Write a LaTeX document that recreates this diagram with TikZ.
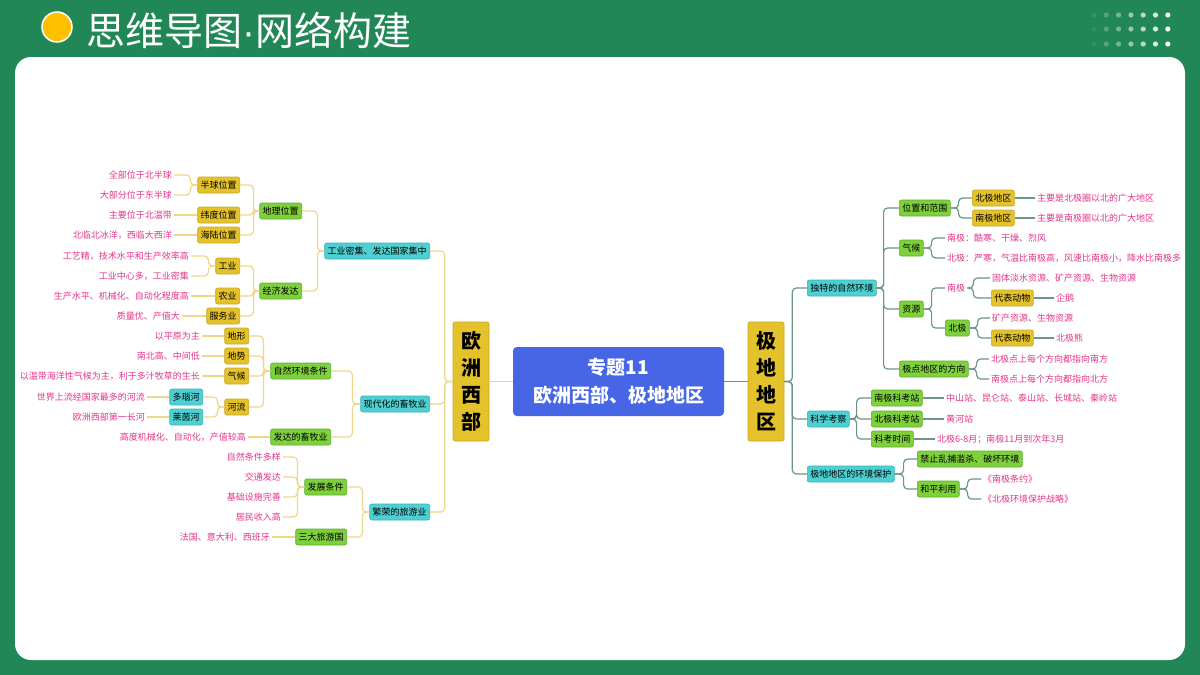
\documentclass[tikz,border=0pt]{standalone}
\usepackage{fontspec}
\setmainfont{Noto Sans CJK SC}
\newfontfamily\dotfont{Liberation Sans}
\usetikzlibrary{positioning}

\definecolor{bggreen}{HTML}{218756}
\definecolor{sun}{HTML}{FFC000}
\definecolor{topicblue}{HTML}{4666E5}
\definecolor{goldfill}{HTML}{E4C22C}
\definecolor{golddraw}{HTML}{C9A81E}
\definecolor{limefill}{HTML}{7ED03C}
\definecolor{limedraw}{HTML}{5DB02A}
\definecolor{cyanfill}{HTML}{4ED0D2}
\definecolor{cyandraw}{HTML}{38B4B7}
\definecolor{leafpink}{HTML}{E6358B}
\definecolor{lwirecol}{HTML}{F0D68A}
\definecolor{rwirecol}{HTML}{6B9687}

\tikzset{
  box/.style = {rounded corners=2pt, line width=0.6pt, inner xsep=3pt,
    inner ysep=0pt, minimum height=16pt, text=black,
    font=\fontsize{9}{11}\selectfont},
  ybox/.style = {box, fill=goldfill, draw=golddraw},
  gbox/.style = {box, fill=limefill, draw=limedraw},
  cbox/.style = {box, fill=cyanfill, draw=cyandraw},
  leaf/.style = {text=leafpink, inner sep=2pt, font=\fontsize{9}{11}\selectfont},
  side/.style = {ybox, minimum width=36pt, minimum height=119pt, align=center,
    font=\fontsize{20}{27}\selectfont\bfseries},
  lwire/.style = {draw=lwirecol, line width=1.2pt, rounded corners=4pt},
  rwire/.style = {draw=rwirecol, line width=1.2pt, rounded corners=4pt}
}

\begin{document}
\begin{tikzpicture}[x=1pt, y=-1pt]

  % frame
  \fill[bggreen] (0,0) rectangle (1200,675);
  \useasboundingbox (0,0) rectangle (1200,675);
  \fill[white, rounded corners=16pt] (15,57) rectangle (1185,660);
  \filldraw[fill=sun, draw=white, line width=1.5pt] (57,27) circle (15);
  \node[anchor=west, text=white, inner sep=0pt,
    font=\fontsize{39}{42}\selectfont] (title) at (86,30)
    {思维导图{\dotfont ·}网络构建};
  \foreach \i [evaluate=\i as \op using 0.08+0.15*\i] in {0,...,6}
    \foreach \r in {15,29,44}
      \fill[white, opacity=\op] (1094+12.3*\i,\r) circle (2.6);

  % centre
  \node[rounded corners=4pt, fill=topicblue, text=white, align=center,
    minimum width=211pt, minimum height=69pt,
    font=\fontsize{19}{28}\selectfont\bfseries] (topic) at (618.5,381.5)
    {专题11\\欧洲西部、极地地区};
  \node[side] (eu)  at (471,381.5) {欧\\洲\\西\\部};
  \node[side] (pol) at (766,381.5) {极\\地\\地\\区};

  % ---- left: Western Europe ----
  \node[cbox, anchor=east] (ind)  at (430,251) {工业密集、发达国家集中};
  \node[cbox, anchor=east] (ani)  at (430,404) {现代化的畜牧业};
  \node[cbox, anchor=east] (tour) at (430,512) {繁荣的旅游业};

  \node[gbox, anchor=east] (geo) at (302,211) {地理位置};
  \node[gbox, anchor=east] (eco) at (302,291) {经济发达};

  \node[ybox, anchor=east] (hemi) at (240,185) {半球位置};
  \node[ybox, anchor=east] (lat)  at (240,215) {纬度位置};
  \node[ybox, anchor=east] (sea)  at (240,235) {海陆位置};
  \node[ybox, anchor=east] (indu) at (240,266) {工业};
  \node[ybox, anchor=east] (agri) at (240,296) {农业};
  \node[ybox, anchor=east] (serv) at (240,316) {服务业};

  \node[leaf, anchor=east] (l1) at (174,175) {全部位于北半球};
  \node[leaf, anchor=east] (l2) at (174,195) {大部分位于东半球};
  \node[leaf, anchor=east] (l3) at (174,215) {主要位于北温带};
  \node[leaf, anchor=east] (l4) at (174,235) {北临北冰洋，西临大西洋};
  \node[leaf, anchor=east] (l5) at (191,256) {工艺精，技术水平和生产效率高};
  \node[leaf, anchor=east] (l6) at (191,276) {工业中心多，工业密集};
  \node[leaf, anchor=east] (l7) at (191,296) {生产水平、机械化、自动化程度高};
  \node[leaf, anchor=east] (l8) at (182,316) {质量优、产值大};

  \node[gbox, anchor=east] (nat) at (331,371) {自然环境条件};
  \node[gbox, anchor=east] (dev) at (331,437) {发达的畜牧业};

  \node[ybox, anchor=east] (terr) at (249,336) {地形};
  \node[ybox, anchor=east] (reli) at (249,356) {地势};
  \node[ybox, anchor=east] (clim) at (249,376) {气候};
  \node[ybox, anchor=east] (riv)  at (249,407) {河流};
  \node[cbox, anchor=east] (dan)  at (203,397) {多瑙河};
  \node[cbox, anchor=east] (rhi)  at (203,417) {莱茵河};

  \node[leaf, anchor=east] (m1) at (202,336) {以平原为主};
  \node[leaf, anchor=east] (m2) at (202,356) {南北高、中间低};
  \node[leaf, anchor=east] (m3) at (202,376) {以温带海洋性气候为主，利于多汁牧草的生长};
  \node[leaf, anchor=east] (m4) at (147,397) {世界上流经国家最多的河流};
  \node[leaf, anchor=east] (m5) at (147,417) {欧洲西部第一长河};
  \node[leaf, anchor=east] (m6) at (248,437) {高度机械化、自动化，产值较高};

  \node[gbox, anchor=east] (cond) at (347,487) {发展条件};
  \node[gbox, anchor=east] (top3) at (347,537) {三大旅游国};

  \node[leaf, anchor=east] (t1) at (283,457) {自然条件多样};
  \node[leaf, anchor=east] (t2) at (283,477) {交通发达};
  \node[leaf, anchor=east] (t3) at (283,497) {基础设施完善};
  \node[leaf, anchor=east] (t4) at (283,517) {居民收入高};
  \node[leaf, anchor=east] (t5) at (272,537) {法国、意大利、西班牙};

  \draw[lwire] (topic.west) -- (eu.east);
  \foreach \c in {ind,ani,tour} \draw[lwire] (eu.west) -- ++(-8,0) |- (\c.east);
  \foreach \c in {geo,eco} \draw[lwire] (ind.west) -- ++(-7,0) |- (\c.east);
  \foreach \c in {hemi,lat,sea} \draw[lwire] (geo.west) -- ++(-6,0) |- (\c.east);
  \foreach \c in {indu,agri,serv} \draw[lwire] (eco.west) -- ++(-6,0) |- (\c.east);
  \foreach \c in {l1,l2} \draw[lwire] (hemi.west) -- ++(-7,0) |- (\c.east);
  \draw[lwire] (lat.west) -- (l3.east);
  \draw[lwire] (sea.west) -- (l4.east);
  \foreach \c in {l5,l6} \draw[lwire] (indu.west) -- ++(-7,0) |- (\c.east);
  \draw[lwire] (agri.west) -- (l7.east);
  \draw[lwire] (serv.west) -- (l8.east);
  \foreach \c in {nat,dev} \draw[lwire] (ani.west) -- ++(-8,0) |- (\c.east);
  \foreach \c in {terr,reli,clim,riv} \draw[lwire] (nat.west) -- ++(-7,0) |- (\c.east);
  \draw[lwire] (terr.west) -- (m1.east);
  \draw[lwire] (reli.west) -- (m2.east);
  \draw[lwire] (clim.west) -- (m3.east);
  \foreach \c in {dan,rhi} \draw[lwire] (riv.west) -- ++(-7,0) |- (\c.east);
  \draw[lwire] (dan.west) -- (m4.east);
  \draw[lwire] (rhi.west) -- (m5.east);
  \draw[lwire] (dev.west) -- (m6.east);
  \foreach \c in {cond,top3} \draw[lwire] (tour.west) -- ++(-7,0) |- (\c.east);
  \foreach \c in {t1,t2,t3,t4} \draw[lwire] (cond.west) -- ++(-7,0) |- (\c.east);
  \draw[lwire] (top3.west) -- (t5.east);

  % ---- right: polar regions ----
  \node[cbox, anchor=west] (env)  at (807,288) {独特的自然环境};
  \node[cbox, anchor=west] (sci)  at (807,419) {科学考察};
  \node[cbox, anchor=west] (prot) at (807,474) {极地地区的环境保护};

  \node[gbox, anchor=west] (loc)   at (899,208) {位置和范围};
  \node[gbox, anchor=west] (rclim) at (899,248) {气候};
  \node[gbox, anchor=west] (res)   at (899,309) {资源};
  \node[gbox, anchor=west] (dir)   at (899,369) {极点地区的方向};

  \node[ybox, anchor=west] (arc) at (972,198) {北极地区};
  \node[ybox, anchor=west] (ant) at (972,218) {南极地区};
  \node[leaf, anchor=west] (r1) at (1035,198) {主要是北极圈以北的广大地区};
  \node[leaf, anchor=west] (r2) at (1035,218) {主要是南极圈以北的广大地区};
  \node[leaf, anchor=west] (r3) at (945,238) {南极：酷寒、干燥、烈风};
  \node[leaf, anchor=west] (r4) at (945,258) {北极：严寒，气温比南极高，风速比南极小，降水比南极多};

  \node[leaf, anchor=west] (sp) at (945,288) {南极};
  \node[gbox, anchor=west] (np) at (945,328) {北极};
  \node[leaf, anchor=west] (r5) at (990,278) {固体淡水资源、矿产资源、生物资源};
  \node[ybox, anchor=west] (spa) at (991,298) {代表动物};
  \node[leaf, anchor=west] (r6) at (1054,298) {企鹅};
  \node[leaf, anchor=west] (r7) at (990,318) {矿产资源、生物资源};
  \node[ybox, anchor=west] (npa) at (991,338) {代表动物};
  \node[leaf, anchor=west] (r8) at (1054,338) {北极熊};
  \node[leaf, anchor=west] (r9)  at (989,359) {北极点上每个方向都指向南方};
  \node[leaf, anchor=west] (r10) at (989,379) {南极点上每个方向都指向北方};

  \node[gbox, anchor=west] (sst)  at (871,398) {南极科考站};
  \node[gbox, anchor=west] (nst)  at (871,419) {北极科考站};
  \node[gbox, anchor=west] (time) at (871,439) {科考时间};
  \node[leaf, anchor=west] (s1) at (944,398) {中山站、昆仑站、泰山站、长城站、秦岭站};
  \node[leaf, anchor=west] (s2) at (944,419) {黄河站};
  \node[leaf, anchor=west] (s3) at (935,439) {北极6-8月；南极11月到次年3月};

  \node[gbox, anchor=west] (ban)   at (917,459) {禁止乱捕滥杀、破坏环境};
  \node[gbox, anchor=west] (peace) at (917,489) {和平利用};
  \node[leaf, anchor=west] (p1) at (981,479) {《南极条约》};
  \node[leaf, anchor=west] (p2) at (981,499) {《北极环境保护战略》};

  \draw[rwire] (topic.east) -- (pol.west);
  \foreach \c in {env,sci,prot} \draw[rwire] (pol.east) -- ++(8,0) |- (\c.west);
  \foreach \c in {loc,rclim,res,dir} \draw[rwire] (env.east) -- ++(7,0) |- (\c.west);
  \foreach \c in {arc,ant} \draw[rwire] (loc.east) -- ++(8,0) |- (\c.west);
  \draw[rwire] (arc.east) -- (r1.west);
  \draw[rwire] (ant.east) -- (r2.west);
  \foreach \c in {r3,r4} \draw[rwire] (rclim.east) -- ++(8,0) |- (\c.west);
  \foreach \c in {sp,np} \draw[rwire] (res.east) -- ++(8,0) |- (\c.west);
  \foreach \c in {r5,spa} \draw[rwire] (sp.east) -- ++(6,0) |- (\c.west);
  \draw[rwire] (spa.east) -- (r6.west);
  \foreach \c in {r7,npa} \draw[rwire] (np.east) -- ++(8,0) |- (\c.west);
  \draw[rwire] (npa.east) -- (r8.west);
  \foreach \c in {r9,r10} \draw[rwire] (dir.east) -- ++(8,0) |- (\c.west);
  \foreach \c in {sst,nst,time} \draw[rwire] (sci.east) -- ++(7,0) |- (\c.west);
  \draw[rwire] (sst.east) -- (s1.west);
  \draw[rwire] (nst.east) -- (s2.west);
  \draw[rwire] (time.east) -- (s3.west);
  \foreach \c in {ban,peace} \draw[rwire] (prot.east) -- ++(9,0) |- (\c.west);
  \foreach \c in {p1,p2} \draw[rwire] (peace.east) -- ++(8,0) |- (\c.west);

\end{tikzpicture}
\end{document}
